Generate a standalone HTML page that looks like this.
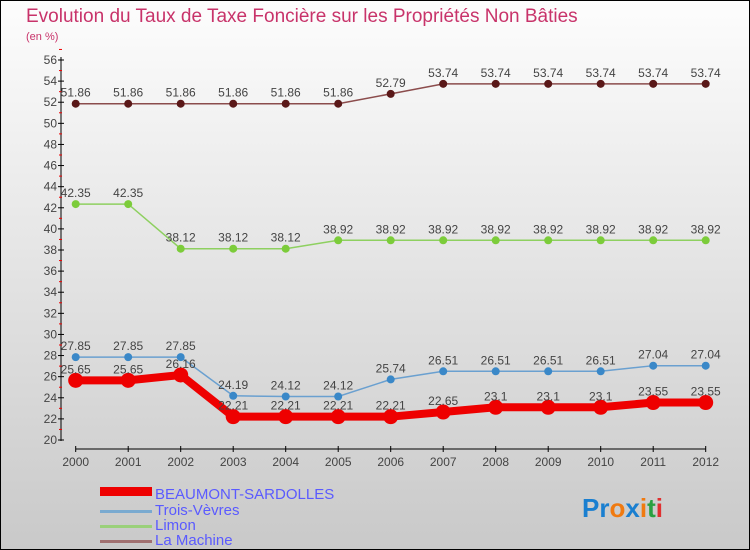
<!DOCTYPE html>
<html><head><meta charset="utf-8"><style>
html,body{margin:0;padding:0}
body{width:750px;height:550px;overflow:hidden;font-family:"Liberation Sans",sans-serif}
#wrap{position:absolute;left:0;top:0;width:748px;height:548px;border:1px solid #000;background:linear-gradient(#fdfdfd,#c9c9c9)}
</style></head><body>
<div id="wrap">
<svg id="chart" width="750" height="550" style="position:absolute;left:-1px;top:-1px">
<text x="26" y="22" font-size="19" fill="#c8336a">Evolution du Taux de Taxe Foncière sur les Propriétés Non Bâties</text>
<text x="26" y="40" font-size="11" fill="#c8336a">(en %)</text>
<g id="axes"></g><g id="series"></g>
<g>
<rect x="100" y="487" width="52" height="9" fill="#e00"/>
<text x="155" y="499" font-size="15" fill="#5a5aff">BEAUMONT-SARDOLLES</text>
<rect x="100" y="510" width="52" height="3" fill="#7aaad0"/>
<text x="155" y="515" font-size="15" fill="#5a5aff">Trois-Vèvres</text>
<rect x="100" y="525" width="52" height="3" fill="#9ad07a"/>
<text x="155" y="530" font-size="15" fill="#5a5aff">Limon</text>
<rect x="100" y="540" width="52" height="3" fill="#a07070"/>
<text x="155" y="545" font-size="15" fill="#5a5aff">La Machine</text>
</g>
<text x="582" y="517" font-size="26" font-weight="bold"><tspan fill="#1a7fd0">Pr</tspan><tspan fill="#f07a10">o</tspan><tspan fill="#1a7fd0">x</tspan><tspan fill="#f07a10">i</tspan><tspan fill="#2aa040">t</tspan><tspan fill="#e03030">i</tspan></text>
</svg></div>
<script>
const years=[2000,2001,2002,2003,2004,2005,2006,2007,2008,2009,2010,2011,2012];
const yTicks=[20,22,24,26,28,30,32,34,36,38,40,42,44,46,48,50,52,54,56];
const beaumont=[25.65,25.65,26.16,22.21,22.21,22.21,22.21,22.65,23.1,23.1,23.1,23.55,23.55];
const troisVevres=[27.85,27.85,27.85,24.19,24.12,24.12,25.74,26.51,26.51,26.51,26.51,27.04,27.04];
const limon=[42.35,42.35,38.12,38.12,38.12,38.92,38.92,38.92,38.92,38.92,38.92,38.92,38.92];
const laMachine=[51.86,51.86,51.86,51.86,51.86,51.86,52.79,53.74,53.74,53.74,53.74,53.74,53.74];
const NS="http://www.w3.org/2000/svg";
const xS=i=>75.7+i*(630/(years.length-1));
const yS=v=>440-(v-20)*(380/36);
function mk(t,a,p){const e=document.createElementNS(NS,t);for(const k in a)e.setAttribute(k,a[k]);p.appendChild(e);return e;}
const ax=document.getElementById('axes');
const ya=mk('line',{x1:61,y1:57,x2:61,y2:441,stroke:'#000'},ax);


yTicks.forEach(v=>{
 mk('line',{x1:58,x2:64,y1:yS(v),y2:yS(v),stroke:'#000'},ax);
 mk('line',{x1:59,x2:62,y1:yS(v+1),y2:yS(v+1),stroke:'#e00'},ax);
 const t=mk('text',{x:57,y:yS(v)+4,'font-size':12,'text-anchor':'end',fill:'#444'},ax);t.textContent=v;
 
 
});
const xa=mk('line',{x1:xS(0),y1:449,x2:xS(years.length-1),y2:449,stroke:'#000'},ax);


years.forEach((y,i)=>{
 mk('line',{x1:xS(i),x2:xS(i),y1:446,y2:452,stroke:'#000'},ax);
 const t=mk('text',{x:xS(i),y:466,'font-size':12,'text-anchor':'middle',fill:'#444'},ax);t.textContent=y;
 
 
});
const sg=document.getElementById('series');
function draw(vals,name,col,w,r,dcol){
 const g=mk('g',{},sg);
 
 
 mk('polyline',{points:vals.map((v,i)=>xS(i)+','+yS(v)).join(' '),fill:'none',stroke:col,'stroke-width':w},g);
 vals.forEach((v,i)=>{
  const c=mk('circle',{cx:xS(i),cy:yS(v),r:r,fill:dcol},g);
  
  
  const t=mk('text',{x:xS(i),y:yS(v)-7,'font-size':12,'text-anchor':'middle',fill:'#444'},g);t.textContent=v;
  
  
 });
}
draw(laMachine,'la-machine','#8b4c4c',1.5,4,'#5a1818');
draw(limon,'limon','#8ed060',1.5,4,'#7ccc3a');
draw(troisVevres,'trois-vevres','#6aa0d0',1.5,4,'#3a88c8');
draw(beaumont,'beaumont-sardolles','#e00',8,7.5,'#e00');
</script>
</body></html>
